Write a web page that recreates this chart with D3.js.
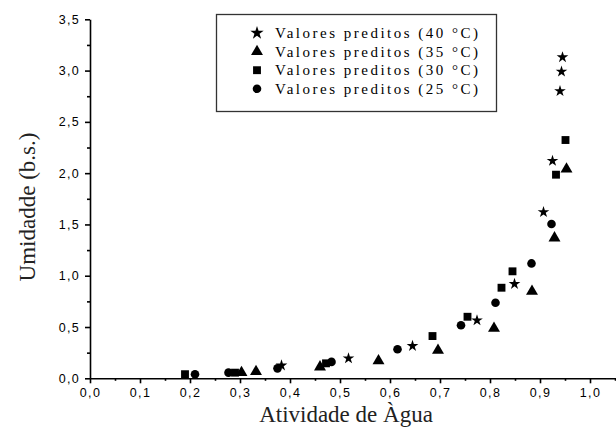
<!DOCTYPE html>
<html>
<head>
<meta charset="utf-8">
<script src="https://cdn.jsdelivr.net/npm/d3@7"></script>
<style>
	html, body { margin: 0; padding: 0; background: #fff; }
	svg { display: block; }
</style>
</head>
<body>
<div id="chart"></div>
<script>
// atividade de agua (x) e umidade (y)
var aw40 = [0.383, 0.517, 0.645, 0.774, 0.849, 0.907, 0.925, 0.94, 0.943, 0.945];
var u40 = [0.125, 0.195, 0.315, 0.565, 0.92, 1.62, 2.12, 2.80, 2.99, 3.13];

var aw35 = [0.303, 0.332, 0.46, 0.577, 0.696, 0.808, 0.884, 0.929, 0.953];
var u35 = [0.055, 0.065, 0.11, 0.17, 0.273, 0.487, 0.848, 1.368, 2.04];

var aw30 = [0.19, 0.29, 0.472, 0.685, 0.755, 0.823, 0.845, 0.932, 0.951];
var u30 = [0.04, 0.055, 0.146, 0.412, 0.60, 0.883, 1.043, 1.985, 2.323];

var aw25 = [0.21, 0.277, 0.375, 0.483, 0.615, 0.742, 0.811, 0.883, 0.923];
var u25 = [0.04, 0.055, 0.097, 0.16, 0.283, 0.517, 0.737, 1.12, 1.504];

var seriesNames = ['Valores preditos (40 °C)', 'Valores preditos (35 °C)',
	'Valores preditos (30 °C)', 'Valores preditos (25 °C)'];

var xTicks = [0, 0.1, 0.2, 0.3, 0.4, 0.5, 0.6, 0.7, 0.8, 0.9, 1.0];
var yTicks = [0, 0.5, 1.0, 1.5, 2.0, 2.5, 3.0, 3.5];

var width = 616, height = 428;

var svg = d3.select('#chart')
	.append('svg')
	.attr('width', width)
	.attr('height', height);

var x = d3.scaleLinear()
	.domain([0, 1.052])
	.range([90, 616]);

var y = d3.scaleLinear()
	.domain([0, 3.5])
	.range([378.3, 19.3]);

var locale = d3.formatLocale({decimal: ',', thousands: '.', grouping: [3], currency: ['', '']});
var fmt = locale.format('.1f');

// minor ticks
var xMinor = d3.range(0.05, 1.06, 0.1);
var yMinor = d3.range(0.25, 3.5, 0.5);

svg.append('g')
	.attr('transform', 'translate(0,' + y(0) + ')')
	.call(d3.axisBottom(x).tickValues(xMinor).tickSize(2.5).tickFormat(''))
	.call(function(g) { g.select('.domain').remove(); });

svg.append('g')
	.attr('transform', 'translate(' + x(0) + ',0)')
	.call(d3.axisLeft(y).tickValues(yMinor).tickSize(3).tickFormat(''))
	.call(function(g) { g.select('.domain').remove(); });

var xAxis = svg.append('g')
	.attr('class', 'x-axis')
	.attr('transform', 'translate(0,' + y(0) + ')')
	.call(d3.axisBottom(x).tickValues(xTicks).tickSize(5).tickSizeOuter(0).tickPadding(5).tickFormat(fmt));

var yAxis = svg.append('g')
	.attr('class', 'y-axis')
	.attr('transform', 'translate(' + x(0) + ',0)')
	.call(d3.axisLeft(y).tickValues(yTicks).tickSize(5).tickSizeOuter(0).tickPadding(5).tickFormat(fmt));

svg.selectAll('.x-axis path, .y-axis path, .tick line')
	.attr('stroke', '#000')
	.attr('stroke-width', 1.6);

svg.selectAll('.tick text')
	.attr('fill', '#000')
	.style('font-family', '"Liberation Sans", Arial, sans-serif')
	.style('font-size', '12.5px')
	.style('letter-spacing', '1.3px');

// axis titles
svg.append('text')
	.text('Umidadde (b.s.)')
	.attr('transform', 'translate(35,207) rotate(-90)')
	.attr('text-anchor', 'middle')
	.attr('fill', '#222')
	.style('font-family', '"Liberation Serif", "Times New Roman", serif')
	.style('font-size', '23px');

svg.append('text')
	.text('Atividade de Àgua')
	.attr('x', 346)
	.attr('y', 422)
	.attr('text-anchor', 'middle')
	.attr('fill', '#222')
	.style('font-family', '"Liberation Serif", "Times New Roman", serif')
	.style('font-size', '23px');

// pontos
var symbols = [d3.symbolStar, d3.symbolTriangle, d3.symbolSquare, d3.symbolCircle];
var sizes = [42, 62, 62, 58];
var xs = [aw40, aw35, aw30, aw25];
var ys = [u40, u35, u30, u25];

xs.forEach(function(arr, s) {
	var pts = arr.map(function(v, i) { return {aw: v, u: ys[s][i]}; });
	svg.append('g')
		.selectAll('path')
		.data(pts)
		.enter()
		.append('path')
		.attr('d', d3.symbol().type(symbols[s]).size(sizes[s]))
		.attr('transform', function(d) { return 'translate(' + x(d.aw) + ',' + y(d.u) + ')'; })
		.attr('fill', '#000');
});

// legenda
var legend = svg.append('g');

legend.append('rect')
	.attr('x', 216.5)
	.attr('y', 14.5)
	.attr('width', 280)
	.attr('height', 97)
	.attr('fill', 'none')
	.attr('stroke', '#333')
	.attr('stroke-width', 1.3);

seriesNames.forEach(function(name, i) {
	var ly = 33 + i * 18.6;
	legend.append('path')
		.attr('d', d3.symbol().type(symbols[i]).size(i === 0 ? 55 : sizes[i]))
		.attr('transform', 'translate(257,' + ly + ')')
		.attr('fill', '#000');
	legend.append('text')
		.text(name)
		.attr('x', 275)
		.attr('y', ly + 5)
		.style('font-family', '"Liberation Serif", "Times New Roman", serif')
		.style('font-size', '15px')
		.style('letter-spacing', '2.5px');
});
</script>
</body>
</html>
